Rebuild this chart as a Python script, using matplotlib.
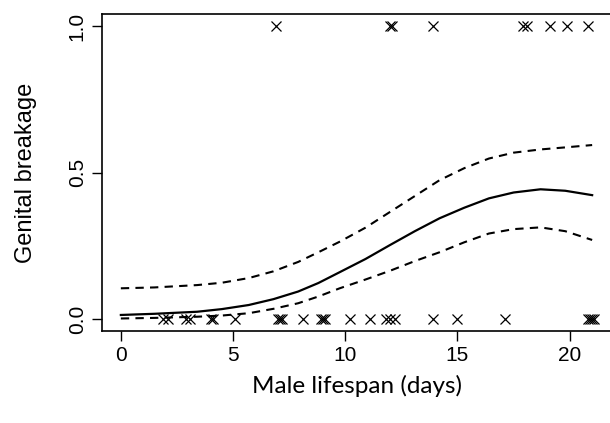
import numpy as np
import matplotlib.pyplot as plt

# observações (tempo de vida do macho, quebra genital 0/1)
vida_quebra = [6.9, 12.0, 12.1, 13.9, 17.9, 18.1, 19.1, 19.9, 20.8]
vida_intacta = [1.9, 2.1, 2.9, 3.1, 4.0, 4.1, 5.1, 7.0, 7.1, 7.2, 8.1, 8.9, 9.0, 9.1,
                10.2, 11.1, 11.8, 12.0, 12.2, 13.9, 15.0, 17.1, 20.8, 20.9, 21.0, 21.1]

# curva ajustada e intervalo de confiança
x_curva = [0, 1.5, 3.4, 4.5, 5.7, 6.8, 7.9, 8.8, 9.75, 10.9, 12.0, 13.1, 14.2, 15.3,
           16.4, 17.5, 18.7, 19.8, 21.0]
y_ajuste = [0.014, 0.018, 0.025, 0.034, 0.048, 0.068, 0.094, 0.123, 0.16, 0.205, 0.253,
            0.30, 0.344, 0.38, 0.412, 0.432, 0.443, 0.438, 0.423]
y_sup = [0.105, 0.108, 0.116, 0.124, 0.14, 0.163, 0.195, 0.228, 0.264, 0.312, 0.366,
         0.42, 0.474, 0.515, 0.548, 0.568, 0.579, 0.586, 0.594]
y_inf = [0.002, 0.004, 0.008, 0.012, 0.02, 0.035, 0.054, 0.077, 0.105, 0.135, 0.165,
         0.198, 0.228, 0.262, 0.292, 0.307, 0.313, 0.30, 0.27]

fig = plt.figure(figsize=(6.1, 4.23), dpi=100)
ax = fig.add_axes([102 / 610, 0.218, 509 / 610, 0.748])

ax.plot(x_curva, y_ajuste, color="black", lw=1.6)
ax.plot(x_curva, y_sup, color="black", lw=1.5, ls=(0, (4, 3)))
ax.plot(x_curva, y_inf, color="black", lw=1.5, ls=(0, (4, 3)))

ax.plot(vida_quebra, np.ones(len(vida_quebra)), "x", color="black", ms=7, mew=0.9)
ax.plot(vida_intacta, np.zeros(len(vida_intacta)), "x", color="black", ms=7, mew=0.9)

ax.set_xlim(-0.84, 21.84)
ax.set_ylim(-0.04, 1.04)
ax.set_xticks([0, 5, 10, 15, 20])
ax.set_yticks([0.0, 0.5, 1.0])
ax.set_yticklabels(["0.0", "0.5", "1.0"], rotation=90, va="center")
ax.tick_params(direction="out", length=7, width=1, labelsize=15, pad=4)
for lab in ax.get_xticklabels() + ax.get_yticklabels():
    lab.set_family("Liberation Sans")
for s in ax.spines.values():
    s.set_linewidth(1.2)

ax.set_xlabel("Male lifespan (days)", fontsize=17.5, family="Lato", labelpad=7)
ax.set_ylabel("Genital breakage", fontsize=17, family="Liberation Sans", labelpad=22)

plt.savefig("out.png", dpi=100)
